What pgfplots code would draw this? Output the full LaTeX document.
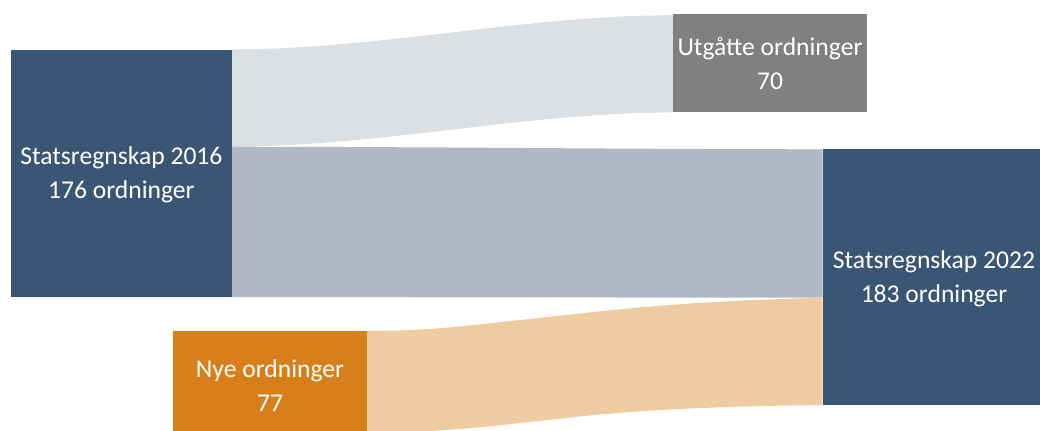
\documentclass[border=0pt]{standalone}
\usepackage{pgfplots}
\pgfplotsset{compat=1.18}
\usepackage{fontspec}
\setmainfont{Carlito}
\definecolor{navy}{HTML}{3A5675}
\definecolor{boxgray}{HTML}{808080}
\definecolor{flowgray}{HTML}{DDE0E3}
\definecolor{flowblue}{HTML}{AFBAC6}
\definecolor{orangebox}{HTML}{D77F1A}
\definecolor{peach}{HTML}{EECBA0}
\begin{document}
\begin{tikzpicture}
\begin{axis}[
  x=0.5pt, y=0.5pt, y dir=reverse,
  xmin=0, xmax=1040, ymin=0, ymax=430,
  hide axis, clip=true,
]
\addplot[draw=none, forget plot] coordinates {(0,0) (1040,430)};
% flow: 2016 -> Utgaatte (70)
\addplot[fill=flowgray, draw=none] coordinates {
 (232,49.5) (276.2,48.5) (320.4,45.9) (364.6,42.0) (408.8,37.4) (453,32.3) (497.2,27.1) (541.4,22.5) (585.6,18.6) (629.8,16.0) (674,15.0)
 (674,112.3) (629.8,113.3) (585.6,115.9) (541.4,119.7) (497.2,124.4) (453,129.5) (408.8,134.6) (364.6,139.3) (320.4,143.1) (276.2,145.7) (232,146.7)
} -- cycle;
% flow: 2016 -> 2022 (106)
\addplot[fill=flowblue, draw=none] coordinates {
 (232,146.7) (291,146.8) (350,147.0) (409,147.3) (468,147.6) (527,148.0) (586,148.4) (645,148.7) (704,149.0) (763,149.2) (822.7,149.3)
 (822.7,297.7) (527,297.4) (232,297.0)
} -- cycle;
% flow: Nye -> 2022 (77)
\addplot[fill=peach, draw=none] coordinates {
 (366.7,331.0) (400,330.5) (430,329.0) (460,326.5) (493,323.0) (543,317.5) (593,312.0) (643,307.0) (693,303.3) (743,300.5) (793,298.6) (822.7,297.7)
 (822.7,405.0) (793,405.4) (743,406.5) (693,408.3) (643,411.0) (593,415.0) (543,420.5) (493,426.0) (460,429.0) (430,431.0) (400,432.3) (366.7,433.0)
} -- cycle;
% nodes
\addplot[fill=navy, draw=none] coordinates {(10.7,49.5) (232,49.5) (232,296.7) (10.7,296.7)} -- cycle;
\addplot[fill=boxgray, draw=none] coordinates {(673.3,14.3) (866.7,14.3) (866.7,112.3) (673.3,112.3)} -- cycle;
\addplot[fill=navy, draw=none] coordinates {(822.7,149.3) (1040,149.3) (1040,405) (822.7,405)} -- cycle;
\addplot[fill=orangebox, draw=none] coordinates {(173.3,331) (366.7,331) (366.7,439) (173.3,439)} -- cycle;
\end{axis}
\begin{axis}[
  x=0.5pt, y=0.5pt, y dir=reverse,
  xmin=0, xmax=1040, ymin=0, ymax=430,
  hide axis, clip=false,
]
\tikzset{lbl/.style={text=white, align=center, font=\fontsize{12.8}{17}\selectfont, inner sep=0pt}}
\node[lbl] at (axis cs:121.4,175) {Statsregnskap 2016\\176 ordninger};
\node[lbl] at (axis cs:770,64) {Utgåtte ordninger\\70};
\node[lbl] at (axis cs:934,278.5) {Statsregnskap 2022\\183 ordninger};
\node[lbl] at (axis cs:270,386) {Nye ordninger\\77};
\end{axis}
\end{tikzpicture}
\end{document}
